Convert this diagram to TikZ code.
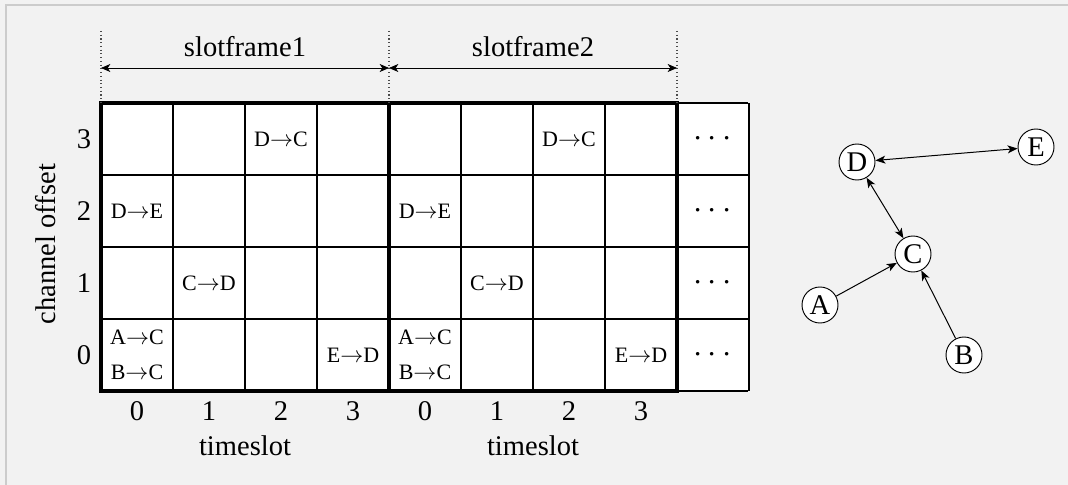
\documentclass[tikz,border=0pt]{standalone}
\usepackage{fontspec}
\setmainfont{Liberation Serif}
\usetikzlibrary{arrows.meta}
\definecolor{bg}{HTML}{F2F2F2}
\definecolor{frameline}{HTML}{CCCCCC}
\begin{document}
\begin{tikzpicture}[x=0.75pt,y=-0.75pt,
  big/.style={font=\fontsize{21.4pt}{25pt}\selectfont, inner sep=0pt},
  small/.style={font=\fontsize{16.5pt}{26.25pt}\selectfont, inner sep=0pt, align=center},
  dots/.style={font=\fontsize{26pt}{30pt}\selectfont, inner sep=0pt},
  thin grid/.style={line width=1pt},
  thick grid/.style={line width=2.4pt},
  span/.style={{Stealth[length=7pt,width=6pt,inset=2pt]}-{Stealth[length=7pt,width=6pt,inset=2pt]}, line width=0.6pt},
  guide/.style={dotted, line width=0.8pt, black!70},
  gnode/.style={circle, draw, fill=white, line width=0.7pt, minimum size=27pt, inner sep=0pt, font=\fontsize{21.4pt}{25pt}\selectfont},
  gedge/.style={-{Stealth[length=7.5pt,width=6pt,inset=2pt]}, line width=0.75pt},
  gboth/.style={{Stealth[length=7.5pt,width=6pt,inset=2pt]}-{Stealth[length=7.5pt,width=6pt,inset=2pt]}, line width=0.75pt}]
\useasboundingbox (0,0) rectangle (1068,485);
\fill[bg] (0,0) rectangle (1068,485);
\draw[frameline, line width=1.2pt] (6,485) -- (6,5) -- (1068,5);

% grid background
\fill[white] (101,103) rectangle (748,391);
% thin grid lines
\foreach \i in {1,...,9} {
  \draw[thin grid] ({101+72*\i},103) -- ({101+72*\i},391);
}
\foreach \j in {1,2,3} {
  \draw[thin grid] (101,{103+72*\j}) -- (748,{103+72*\j});
}
\draw[thin grid] (677,103) -- (748,103);
\draw[thin grid] (677,391) -- (748,391);
% thick slotframe borders
\draw[thick grid] (101,103) rectangle (389,391);
\draw[thick grid] (389,103) rectangle (677,391);

% guides and spans
\coordinate (g0t) at (101,31); \coordinate (g0b) at (101,103);
\coordinate (g1t) at (389,31); \coordinate (g1b) at (389,103);
\coordinate (g2t) at (677,31); \coordinate (g2b) at (677,103);
\draw[guide] (g0t) -- (g0b);
\draw[guide] (g1t) -- (g1b);
\draw[guide] (g2t) -- (g2b);
\coordinate (s0) at (101,68);
\coordinate (s1) at (389,68);
\coordinate (s2) at (677,68);
\draw[span] (s0) -- (s1);
\draw[span] (s1) -- (s2);
\node[big, anchor=base] (sf1) at (245,57) {slotframe1};
\node[big, anchor=base] (sf2) at (533,57) {slotframe2};

% row labels
\node[big] (r3) at (84,139) {3};
\node[big] (r2) at (84,211) {2};
\node[big] (r1) at (84,283) {1};
\node[big] (r0) at (84,355) {0};
\node[big, rotate=90] (chlab) at (46,244) {channel offset};

% column labels
\foreach \k in {0,...,3} {
  \node[big, anchor=base] (ca\k) at ({137+72*\k},420) {\k};
  \node[big, anchor=base] (cb\k) at ({425+72*\k},420) {\k};
}
\node[big, anchor=base] (ts1) at (245,455) {timeslot};
\node[big, anchor=base] (ts2) at (533,455) {timeslot};

% cell contents
\node[small] (a32) at (281,139) {D$\rightarrow$C};
\node[small] (a20) at (137,211) {D$\rightarrow$E};
\node[small] (a11) at (209,283) {C$\rightarrow$D};
\node[small] (a00) at (137,355) {A$\rightarrow$C\\B$\rightarrow$C};
\node[small] (a03) at (353,355) {E$\rightarrow$D};
\node[small] (b32) at (569,139) {D$\rightarrow$C};
\node[small] (b20) at (425,211) {D$\rightarrow$E};
\node[small] (b11) at (497,283) {C$\rightarrow$D};
\node[small] (b00) at (425,355) {A$\rightarrow$C\\B$\rightarrow$C};
\node[small] (b03) at (641,355) {E$\rightarrow$D};
\node[dots] (d3) at (712.5,139) {$\cdots$};
\node[dots] (d2) at (712.5,211) {$\cdots$};
\node[dots] (d1) at (712.5,283) {$\cdots$};
\node[dots] (d0) at (712.5,355) {$\cdots$};

% graph
\node[gnode] (D) at (857,162) {D};
\node[gnode] (E) at (1036,147) {E};
\node[gnode] (C) at (913,254) {C};
\node[gnode] (A) at (820,305) {A};
\node[gnode] (B) at (964,355) {B};
\draw[gboth] (D) -- (E);
\draw[gboth] (D) -- (C);
\draw[gedge] (A) -- (C);
\draw[gedge] (B) -- (C);
\end{tikzpicture}
\end{document}
